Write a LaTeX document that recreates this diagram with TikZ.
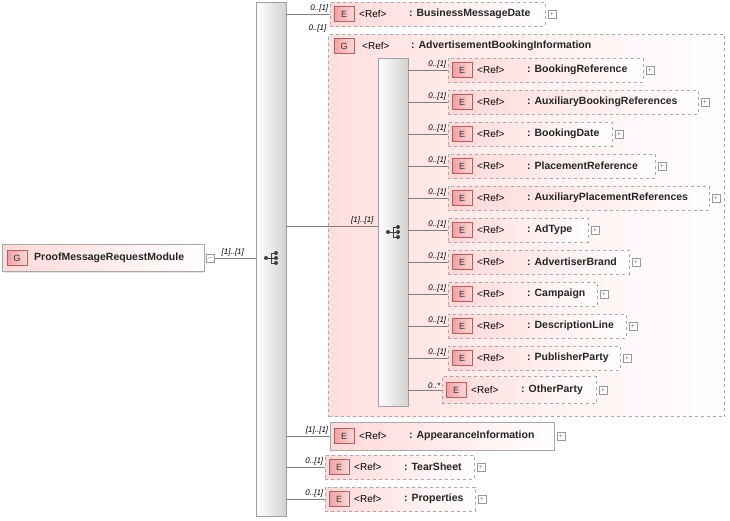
\documentclass[tikz,border=0pt]{standalone}
\usepackage{fontspec}
\setmainfont{Liberation Sans}
\usetikzlibrary{positioning,shadows}
\definecolor{boxline}{HTML}{A8A8A8}
\definecolor{boxpink}{HTML}{FFD8D8}
\definecolor{iconpink}{HTML}{F2A0A0}
\definecolor{iconline}{HTML}{B06060}
\definecolor{barline}{HTML}{A0A0A0}
\tikzset{
  ebox/.style={draw=boxline, dashed, line width=0.8pt, left color=boxpink, right color=white,
               minimum height=24pt, inner sep=0pt},
  gbox/.style={draw=boxline, dashed, line width=1pt, left color=boxpink!80, right color=white, inner sep=0pt},
  icon/.style={draw=iconline, left color=iconpink, right color=iconpink!40, minimum width=20pt,
               minimum height=15pt, inner sep=0pt, font=\fontsize{9}{10}\selectfont, text=black!80},
  bar/.style={draw=barline, left color=white, right color=black!18, inner sep=0pt, minimum width=30pt},
  plusbox/.style={draw=black!40, fill=white, minimum size=8pt, inner sep=0pt, font=\fontsize{7}{7}\selectfont, text=black!50},
  card/.style={font=\fontsize{8}{9}\itshape\selectfont, anchor=south east, inner sep=1.5pt},
  conn/.style={draw=black!50, line width=0.6pt},
  reftxt/.style={anchor=west, inner sep=0pt, font=\fontsize{10}{11}\selectfont},
  nametxt/.style={anchor=west, inner sep=0pt, font=\fontsize{10.5}{12}\bfseries\selectfont, text=black!85}
}
\newcommand{\seqicon}[2]{%
  \begin{scope}[shift={(#1,#2)}]
  \draw[black!75, line width=0.8pt] (-5,0) -- (0,0) (0,-5) -- (0,5) (0,-5) -- (5,-5) (0,0) -- (5,0) (0,5) -- (5,5);
  \fill[black!75] (-5,0) circle (2pt) (5,-5) circle (2pt) (5,0) circle (2pt) (5,5) circle (2pt);
  \end{scope}}
% element box: name, left x, centre y, right x, text, style extra
\newcommand{\elembox}[6]{%
  \node (#1) [ebox, #6, anchor=west, minimum width=#4-#2] at (#2,#3) {};
  \node (#1i) [icon, right=4pt of #1.west] {E};
  \node (#1r) [reftxt] at ([xshift=29pt]#1.west) {<Ref>};
  \node (#1n) [nametxt] at ([xshift=79pt]#1.west) {: #5};
  \node (#1p) [plusbox, right=2pt of #1.east] {+};}
\begin{document}
\begin{tikzpicture}[x=1pt,y=-1pt]
\useasboundingbox (0,0) rectangle (730,520);

% root group
\node (root) [draw=boxline, left color=boxpink, right color=white, anchor=west, minimum width=202pt,
  minimum height=27pt, inner sep=0pt, drop shadow={shadow xshift=1pt,shadow yshift=-1pt,opacity=0.2}] at (2,258) {};
\node (rooti) [icon, right=5pt of root.west] {G};
\node (rootn) [nametxt] at ([xshift=32pt]root.west) {ProofMessageRequestModule};
\node (rootm) [plusbox, right=2pt of root.east] {--};

% main sequence
\node (seq) [bar, minimum height=514pt, anchor=north west] at (256,2) {};
\seqicon{271}{258}
\draw[conn] (rootm.east) -- (rootm.east -| seq.west) node[card, pos=0.75] {[1]..[1]};

% group
\node (grp) [gbox, anchor=north west, minimum width=396pt, minimum height=382pt] at (328,34) {};
\node (grpi) [icon] at (344,46) {G};
\node (grpr) [reftxt] at (362,46) {<Ref>};
\node (grpn) [nametxt] at (411,46) {: AdvertisementBookingInformation};
\node[card] at (grp.north west) {0..[1]};

\node (seqb) [bar, minimum height=348pt, anchor=north west] at (378,58) {};
\seqicon{393}{232}
\draw[conn] (seq.east |- 0,226) coordinate (g0) -- (g0 -| seqb.west) node[card, pos=0.97] {[1]..[1]};

% main children
\elembox{bmd}{330}{14}{545}{BusinessMessageDate}{}
\elembox{api}{330}{436}{554}{AppearanceInformation}{solid, minimum height=28pt}
\elembox{ts}{325}{467}{474}{TearSheet}{}
\elembox{prp}{325}{499}{475}{Properties}{}
\draw[conn] (seq.east |- bmd) -- (bmd.west) node[card] {0..[1]};
\draw[conn] (seq.east |- api) -- (api.west) node[card] {[1]..[1]};
\draw[conn] (seq.east |- ts) -- (ts.west) node[card] {0..[1]};
\draw[conn] (seq.east |- prp) -- (prp.west) node[card] {0..[1]};

% inner children
\foreach \nm/\rx/\yy/\txt in {b1/643/70/BookingReference, b2/698/102/AuxiliaryBookingReferences,
  b3/612/134/BookingDate, b4/655/166/PlacementReference, b5/709/198/AuxiliaryPlacementReferences,
  b6/588/230/AdType, b7/629/262/AdvertiserBrand, b8/597/294/Campaign, b9/626/326/DescriptionLine,
  b10/620/358/PublisherParty}{
  \elembox{\nm}{448}{\yy}{\rx}{\txt}{}
  \draw[conn] (seqb.east |- \nm) -- (\nm.west) node[card] {0..[1]};
}
\elembox{op}{442}{390}{596}{OtherParty}{minimum height=27pt}
\draw[conn] (seqb.east |- op) -- (op.west) node[card] {0..*};
\end{tikzpicture}
\end{document}
